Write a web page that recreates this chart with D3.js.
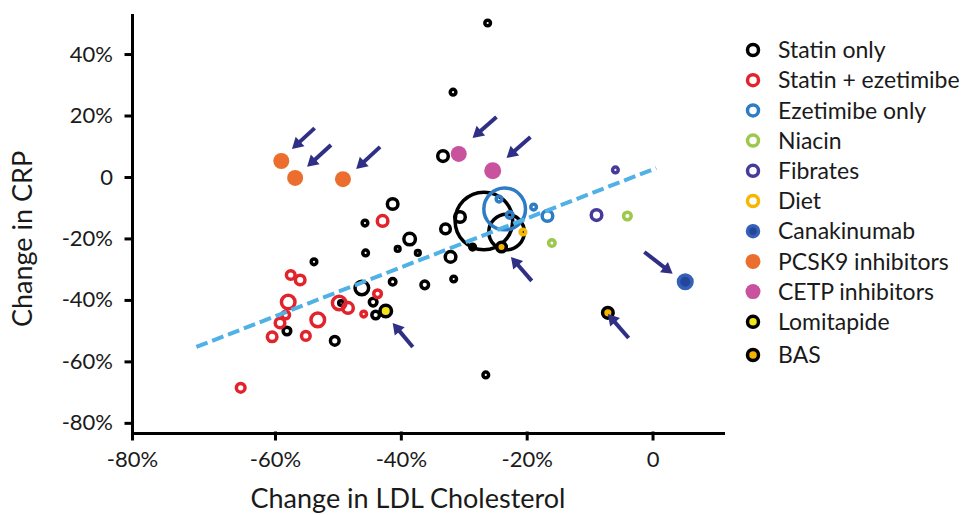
<!DOCTYPE html>
<meta charset="utf-8">
<style>
body { margin: 0; background: #fff; }
svg { display: block; font-family: Lato, "Open Sans", sans-serif; }
.axis path, .axis line { stroke: #000; stroke-width: 3; stroke-linecap: square; }
.axis text { font-size: 22px; fill: #1a1a1a; font-family: Lato, sans-serif; }
</style>
<svg width="971" height="515"></svg>
<script src="https://d3js.org/d3.v7.min.js"></script>
<script>

// tick values
var xTicks = [-80, -60, -40, -20, 0];
var yTicks = [-80, -60, -40, -20, 0, 20, 40];

// each point: [change in LDL %, change in CRP %, trial size (relative)]
var statinOnly = [
  [-26.2, 50.1, 1.8], [-31.7, 27.6, 1.8], [-33.3, 6.8, 4.7], [-41.3, -8.8, 4.7],
  [-45.7, -15.0, 1.8], [-45.6, -24.7, 1.8], [-38.6, -20.2, 5.4], [-40.5, -23.4, 1.4],
  [-37.3, -24.7, 1.4], [-41.3, -34.1, 2.2], [-36.2, -35.1, 2.8], [-31.6, -33.2, 1.8],
  [-32.1, -26.0, 4.7], [-32.9, -16.9, 4.0], [-30.6, -13.0, 4.7], [-26.8, -14.3, 100],
  [-23.2, -17.9, 40], [-28.6, -22.8, 1.8], [-26.5, -64.4, 1.8], [-53.8, -27.6, 1.8],
  [-58.1, -50.1, 2.8], [-50.5, -53.3, 3.4], [-46.2, -36.1, 7.1], [-49.5, -41.0, 1.4],
  [-44.4, -40.7, 2.8], [-44.0, -44.9, 2.8]
];
var statinEzetimibe = [
  [-42.9, -14.3, 4.7], [-57.5, -31.9, 3.4], [-56.0, -33.5, 4.0], [-57.9, -40.7, 7.1],
  [-58.3, -44.9, 2.8], [-59.2, -47.5, 4.0], [-60.4, -52.0, 4.0], [-55.1, -51.7, 3.4],
  [-53.2, -46.5, 7.1], [-49.8, -41.0, 7.1], [-48.4, -42.6, 4.7], [-45.9, -44.6, 1.8],
  [-43.7, -38.0, 2.8], [-64.8, -68.6, 3.4]
];
var ezetimibeOnly = [
  [-23.5, -10.4, 54], [-24.4, -7.2, 1.8], [-22.7, -12.4, 2.2], [-18.9, -9.8, 1.8],
  [-16.7, -12.7, 4.7]
];
var niacin = [[-16.0, -21.5, 2.2], [-4.0, -12.7, 2.8]];
var fibrates = [[-8.9, -12.4, 4.7], [-5.9, 2.3, 1.8]];
var diet = [[-20.6, -17.9, 1.8]];
var canakinumab = [[5.2, -34.1, 7.1]];
var pcsk9 = [[-59.0, 5.2, 6.25], [-56.8, -0.3, 6.25], [-49.2, -0.7, 6.25]];
var cetp = [[-30.8, 7.5, 6.25], [-25.4, 2.0, 7.1]];
var lomitapide = [[-42.4, -43.6, 5.4]];
var bas = [[-24.0, -22.8, 4.0], [-7.1, -44.2, 4.7]];

// regression line end points
var trendLine = [[-71, -55.3], [0.6, 2.9]];

// arrows: [tail x, tail y, tip x, tip y]
var arrows = [
  [-53.7, 15.9, -57.3, 9.1], [-51.1, 10.4, -54.9, 3.3], [-43.3, 9.8, -47.1, 2.6],
  [-24.8, 19.5, -28.6, 12.7], [-19.4, 13.0, -23.2, 6.2], [-19.2, -33.8, -22.5, -26.0],
  [-1.3, -24.4, 3.2, -31.5], [-3.8, -52.4, -7.1, -44.6], [-38.1, -55.3, -41.3, -47.5]
];

var series = [
  {name: "Statin only",        data: statinOnly,      kind: "ring",   stroke: "#000000"},
  {name: "Statin + ezetimibe", data: statinEzetimibe, kind: "ring",   stroke: "#e3232c"},
  {name: "Ezetimibe only",     data: ezetimibeOnly,   kind: "ring",   stroke: "#2d7cc4"},
  {name: "Niacin",             data: niacin,          kind: "ring",   stroke: "#9cc84b"},
  {name: "Fibrates",           data: fibrates,        kind: "ring",   stroke: "#463a9b"},
  {name: "Diet",               data: diet,            kind: "ring",   stroke: "#f6b700"},
  {name: "Canakinumab",        data: canakinumab,     kind: "filled", fill: "#24469a", stroke: "#3560b8"},
  {name: "PCSK9 inhibitors",   data: pcsk9,           kind: "filled", fill: "#ec6e2e"},
  {name: "CETP inhibitors",    data: cetp,            kind: "filled", fill: "#c8529e"},
  {name: "Lomitapide",         data: lomitapide,      kind: "ringfill", stroke: "#000000", fill: "#f1e417"},
  {name: "BAS",                data: bas,             kind: "ringfill", stroke: "#000000", fill: "#f6b400"}
];

var svg = d3.select("svg");

// the -80% tick sits at the axis corner, a little wider than the other steps
var x = d3.scaleLinear().domain([-80, -60, 11.2]).range([132, 275, 723]);
var y = d3.scaleLinear().domain([-83.3, 52.7]).range([433, 15]);
var r = d3.scaleSqrt().domain([0, 100]).range([0, 30]);

function pct(d) { return d === 0 ? "0" : d + "%"; }

var yAxis = svg.append("g")
    .attr("class", "axis")
    .attr("transform", "translate(" + x.range()[0] + ",0)")
    .call(d3.axisLeft(y).tickValues(yTicks).tickFormat(pct).tickSize(6).tickSizeOuter(0).tickPadding(13));

var xAxis = svg.append("g")
    .attr("class", "axis")
    .attr("transform", "translate(0," + y.range()[0] + ")")
    .call(d3.axisBottom(x).tickValues(xTicks).tickFormat(pct).tickSize(6).tickSizeOuter(0).tickPadding(12));

// points
var pts = svg.append("g");
series.forEach(function(s) {
  var data = s.data.slice().sort(function(a, b) { return b[2] - a[2]; });
  var c = pts.append("g").selectAll("circle")
    .data(data)
    .enter().append("circle")
      .attr("cx", function(d) { return x(d[0]); })
      .attr("cy", function(d) { return y(d[1]); });

  if (s.kind === "filled" && !s.stroke) {
    c.attr("r", function(d) { return r(d[2]) + 0.5; })
     .attr("fill", s.fill);
  } else {
    c.attr("r", function(d) { return Math.max(r(d[2]) - 1.2, 1.2); })
     .attr("fill", s.kind === "ring" ? "none" : s.fill)
     .attr("stroke", s.stroke)
     .attr("stroke-width", 3.5);
  }
});

// dashed trend line
svg.append("path")
    .datum(trendLine)
    .attr("d", d3.line().x(function(d) { return x(d[0]); }).y(function(d) { return y(d[1]); }))
    .attr("fill", "none")
    .attr("stroke", "#4fb1e6")
    .attr("stroke-width", 4)
    .attr("stroke-dasharray", "12,5");

// arrows
var arrowColor = "#2f2f86";
var ag = svg.append("g");
arrows.forEach(function(a) {
  var x0 = x(a[0]), y0 = y(a[1]), x1 = x(a[2]), y1 = y(a[3]);
  var ang = Math.atan2(y1 - y0, x1 - x0);
  var head = 11, half = 6.5;
  var bx = x1 - head * Math.cos(ang), by = y1 - head * Math.sin(ang);
  ag.append("line")
      .attr("x1", x0).attr("y1", y0)
      .attr("x2", bx + 2 * Math.cos(ang)).attr("y2", by + 2 * Math.sin(ang))
      .attr("stroke", arrowColor)
      .attr("stroke-width", 4);
  ag.append("path")
      .attr("d", "M" + x1 + "," + y1 +
        "L" + (bx - half * Math.sin(ang)) + "," + (by + half * Math.cos(ang)) +
        "L" + (bx + half * Math.sin(ang)) + "," + (by - half * Math.cos(ang)) + "Z")
      .attr("fill", arrowColor);
});

// axis titles
svg.append("text")
    .attr("x", 408)
    .attr("y", 499)
    .attr("dy", "0.35em")
    .attr("text-anchor", "middle")
    .attr("font-size", 27)
    .attr("fill", "#1a1a1a")
    .text("Change in LDL Cholesterol");

svg.append("text")
    .attr("transform", "translate(23,239) rotate(-90)")
    .attr("dy", "0.35em")
    .attr("text-anchor", "middle")
    .attr("font-size", 27)
    .attr("fill", "#1a1a1a")
    .text("Change in CRP");

// legend
var legend = svg.append("g")
  .selectAll("g")
  .data(series)
  .enter().append("g")
    .attr("transform", function(d, i) {
      return "translate(753," + (50 + i * 30.2 + (i === 10 ? 3 : 0)) + ")";
    });

legend.append("circle")
    .attr("r", function(d) { return d.kind === "filled" && !d.stroke ? 7.5 : 5.5; })
    .attr("fill", function(d) { return d.kind === "ring" ? "none" : d.fill; })
    .attr("stroke", function(d) { return d.kind === "filled" && !d.stroke ? "none" : d.stroke; })
    .attr("stroke-width", 3.5);

legend.append("text")
    .attr("x", 25)
    .attr("dy", "0.36em")
    .attr("font-size", 23)
    .attr("fill", "#1a1a1a")
    .text(function(d) { return d.name; });

</script>
